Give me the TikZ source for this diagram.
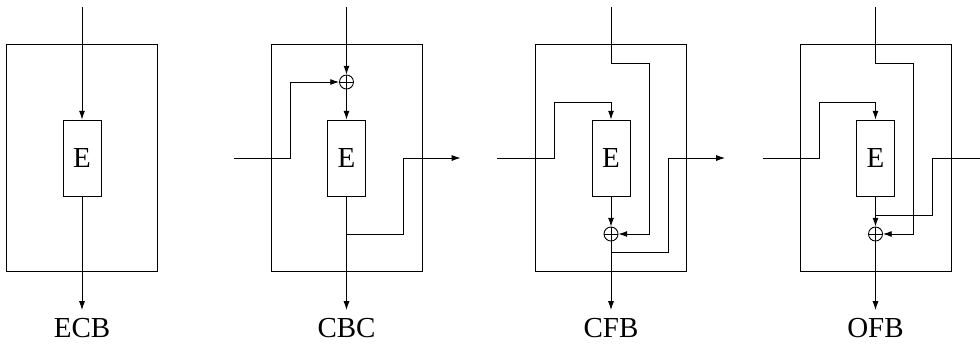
\documentclass[tikz,border=0pt]{standalone}
\usepackage{fontspec}
\setmainfont{Liberation Serif}
\usetikzlibrary{arrows.meta}
\tikzset{
  frame/.style={draw,minimum width=3.02cm,minimum height=4.54cm,inner sep=0},
  enc/.style={draw,minimum width=0.76cm,minimum height=1.52cm,inner sep=0,font=\fontsize{16.5}{18}\selectfont},
  xor/.style={draw,circle,minimum size=0.28cm,inner sep=0,
    path picture={\draw (path picture bounding box.north)--(path picture bounding box.south)
      (path picture bounding box.west)--(path picture bounding box.east);}},
  flow/.style={-{Latex[length=5pt,width=3.4pt]}},
  mode/.style={font=\fontsize{16.5}{18}\selectfont,anchor=base}
}
\begin{document}
\begin{tikzpicture}[x=0.02cm,y=-0.02cm,line width=0.5pt]
\useasboundingbox (0,0) rectangle (980,343);
% ECB
\begin{scope}[shift={(82,0)}]
\node[frame] (ecbF) at (0,158) {};
\node[enc] (ecbE) at (0,158) {E};
\coordinate (ecbIn) at (0,7);
\coordinate (ecbOut) at (0,310);
\draw[flow] (ecbIn) -- (ecbE);
\draw[flow] (ecbE) -- (ecbOut);
\node[mode] (ecbL) at (0,337) {ECB};
\end{scope}
% CBC
\begin{scope}[shift={(346.5,0)}]
\node[frame] (cbcF) at (0,158) {};
\node[enc] (cbcE) at (0,158) {E};
\node[xor] (cbcX) at (0,82) {};
\coordinate (cbcIn) at (0,7);
\coordinate (cbcIV) at (-113,158);
\coordinate (cbcB) at (0,234);
\coordinate (cbcC) at (114,158);
\coordinate (cbcOut) at (0,310);
\draw[flow] (cbcIn) -- (cbcX);
\draw[flow] (cbcX) -- (cbcE);
\draw[flow] (cbcIV) -- ++(57,0) |- (cbcX);
\draw[flow] (cbcE) -- (cbcOut);
\draw[flow] (cbcB) -- ++(57,0) |- (cbcC);
\node[mode] (cbcL) at (0,337) {CBC};
\end{scope}
% CFB
\begin{scope}[shift={(611,0)}]
\node[frame] (cfbF) at (0,158) {};
\node[enc] (cfbE) at (0,158) {E};
\node[xor] (cfbX) at (0,234) {};
\coordinate (cfbIn) at (0,7);
\coordinate (cfbIV) at (-114,158);
\coordinate (cfbB) at (0,252);
\coordinate (cfbC) at (114,158);
\coordinate (cfbOut) at (0,310);
\draw[flow] (cfbIn) -- ++(0,56) -- ++(38,0) |- (cfbX);
\draw[flow] (cfbIV) -- ++(57,0) -- ++(0,-56) -| (cfbE);
\draw[flow] (cfbE) -- (cfbX);
\draw[flow] (cfbX) -- (cfbOut);
\draw[flow] (cfbB) -- ++(57,0) |- (cfbC);
\node[mode] (cfbL) at (0,337) {CFB};
\end{scope}
% OFB
\begin{scope}[shift={(875.5,0)}]
\node[frame] (ofbF) at (0,158) {};
\node[enc] (ofbE) at (0,158) {E};
\node[xor] (ofbX) at (0,234) {};
\coordinate (ofbIn) at (0,7);
\coordinate (ofbIV) at (-113,158);
\coordinate (ofbB) at (0,215);
\coordinate (ofbC) at (105,158);
\coordinate (ofbOut) at (0,310);
\draw[flow] (ofbIn) -- ++(0,56) -- ++(38,0) |- (ofbX);
\draw[flow] (ofbIV) -- ++(57,0) -- ++(0,-56) -| (ofbE);
\draw[flow] (ofbE) -- (ofbX);
\draw[flow] (ofbX) -- (ofbOut);
\draw (ofbB) -- ++(57,0) |- (ofbC);
\node[mode] (ofbL) at (0,337) {OFB};
\end{scope}
\end{tikzpicture}
\end{document}
